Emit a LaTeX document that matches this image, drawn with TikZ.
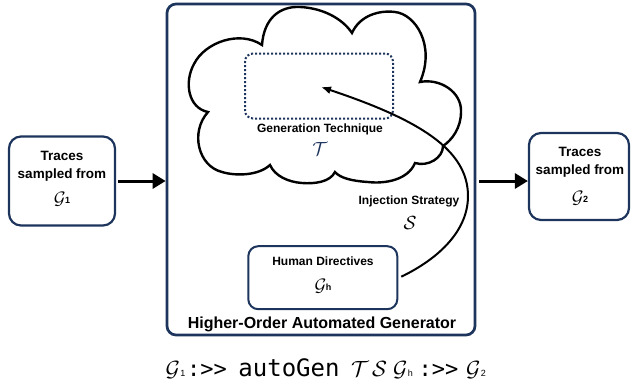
\RequirePackage{fix-cm}
\documentclass[tikz,border=0pt]{standalone}
\usepackage{fontspec}
\setmainfont{Liberation Sans}
\newfontfamily\monof{DejaVu Sans Mono}
\usetikzlibrary{arrows.meta,calc}
\definecolor{navy}{RGB}{29,52,92}
\newcommand{\Gsub}[1]{$\mathcal{G}$\kern-0.3pt\raisebox{0.8pt}{\fontsize{9}{9}\selectfont\bfseries #1}}
\newcommand{\Gsubl}[1]{$\mathcal{G}$\kern0.3pt\raisebox{0pt}{\fontsize{9}{9}\selectfont #1}}
\tikzset{
  roundbox/.style={draw=navy, line width=2.2pt, rounded corners=12pt},
  lbl/.style={font=\fontsize{13.5}{17.5}\selectfont\bfseries, anchor=base},
  slbl/.style={font=\fontsize{12}{14}\selectfont\bfseries, anchor=base},
  bigG/.style={font=\fontsize{18}{18}\selectfont},
  thickarrow/.style={line width=3pt, -{Triangle[length=13pt,width=15pt]}},
  mono/.style={font=\fontsize{22}{22}\selectfont\monof, anchor=base, inner sep=0pt},
  monob/.style={font=\fontsize{24}{24}\selectfont\monof, anchor=base, inner sep=0pt},
  fmath/.style={font=\fontsize{22}{22}\selectfont, anchor=base, inner sep=0pt},
}
\begin{document}
\begin{tikzpicture}[x=1pt,y=-1pt]
\useasboundingbox (0,0) rectangle (633,389);
% outer big box
\node[draw=navy, line width=2.7pt, rounded corners=9pt, minimum width=308pt, minimum height=331pt] (big) at (321,169.5) {};
% left and right boxes
\node[roundbox, minimum width=106pt, minimum height=89pt] (g1) at (62,181) {};
\node[lbl] (g1a) at (62,160.7) {Traces};
\node[lbl] (g1b) at (62,178.3) {sampled from};
\node[bigG] (g1g) at (62,199.5) {\Gsub{1}};
\node[roundbox, minimum width=100pt, minimum height=87pt] (g2) at (579,176.5) {};
\node[lbl] (g2a) at (580,156.7) {Traces};
\node[lbl] (g2b) at (580,174.5) {sampled from};
\node[bigG] (g2g) at (580,198) {\Gsub{2}};
\draw[thickarrow] (g1.east) ++(2,0) -- (big.west |- g1.east);
\draw[thickarrow] (big.east |- g1.east) ++(3,0) -- (g2.west |- g1.east);
% cloud
\coordinate (c0) at (208,112);
\coordinate (c1) at (262,45);
\coordinate (c2) at (352,33);
\coordinate (c3) at (420,82);
\coordinate (c4) at (443,146);
\coordinate (c5) at (415,163);
\coordinate (c6) at (335,172);
\coordinate (c7) at (270,165);
\draw[line width=2.4pt, line join=miter]
  (c0) .. controls (188,108) and (184,82) .. (194,64)
       .. controls (205,42) and (240,30) .. (c1)
       .. controls (264,18) and (280,6) .. (300,7)
       .. controls (322,8) and (342,18) .. (c2)
       .. controls (360,15) and (380,10) .. (395,12)
       .. controls (415,14) and (436,45) .. (c3)
       .. controls (440,78) and (462,92) .. (461,112)
       .. controls (461,128) and (452,140) .. (c4)
       .. controls (443,158) and (428,167) .. (c5)
       .. controls (408,180) and (385,184) .. (368,182)
       .. controls (352,181) and (340,178) .. (c6)
       .. controls (330,182) and (315,184) .. (302,183)
       .. controls (288,182) and (275,176) .. (c7)
       .. controls (258,176) and (235,176) .. (222,172)
       .. controls (198,166) and (190,132) .. (c0) -- cycle;
\node[draw=navy, line width=2pt, dotted, rounded corners=8pt,
      minimum width=148pt, minimum height=65pt] (tech) at (319,86) {};
\coordinate (tgt) at (321,87);
\node[slbl] (gt) at (320,132.7) {Generation Technique};
\node[text=navy, font=\fontsize{19}{19}\selectfont] (T) at (320,149) {$\mathcal{T}$};
% human directives
\node[roundbox, line width=2pt, rounded corners=10pt, minimum width=149pt, minimum height=63pt] (hd) at (322.8,277.7) {};
\node[slbl] (hdt) at (323,265) {Human Directives};
\node[bigG] (hdg) at (323,286) {\Gsub{h}};
% injection strategy
\node[slbl] (is) at (409,204) {Injection Strategy};
\node[font=\fontsize{19}{19}\selectfont] (S) at (410,223) {$\mathcal{S}$};
\draw[line width=2pt, -{Latex[length=10pt,width=8pt]}]
  (hd.east) ++(3,-1) .. controls (440,258) and (468,230) .. (468,196)
  .. controls (468,150) and (420,120) .. (tgt);
% title
\node[font=\fontsize{16}{18}\selectfont\bfseries, anchor=base] (title) at (322,328.3) {Higher-Order Automated Generator};
% formula
\node[fmath] (f1) at (175.5,376) {\Gsubl{1}};
\node[mono] (f2) at (207,376) {:>>};
\node[monob] (f3) at (289,376) {autoGen};
\node[fmath] (f4) at (360,376) {$\mathcal{T}$};
\node[fmath] (f5) at (379.5,376) {$\mathcal{S}$};
\node[fmath] (f6) at (403,376) {\Gsubl{h}};
\node[mono] (f7) at (438.5,376) {:>>};
\node[fmath] (f8) at (476,376) {\Gsubl{2}};
\end{tikzpicture}
\end{document}
